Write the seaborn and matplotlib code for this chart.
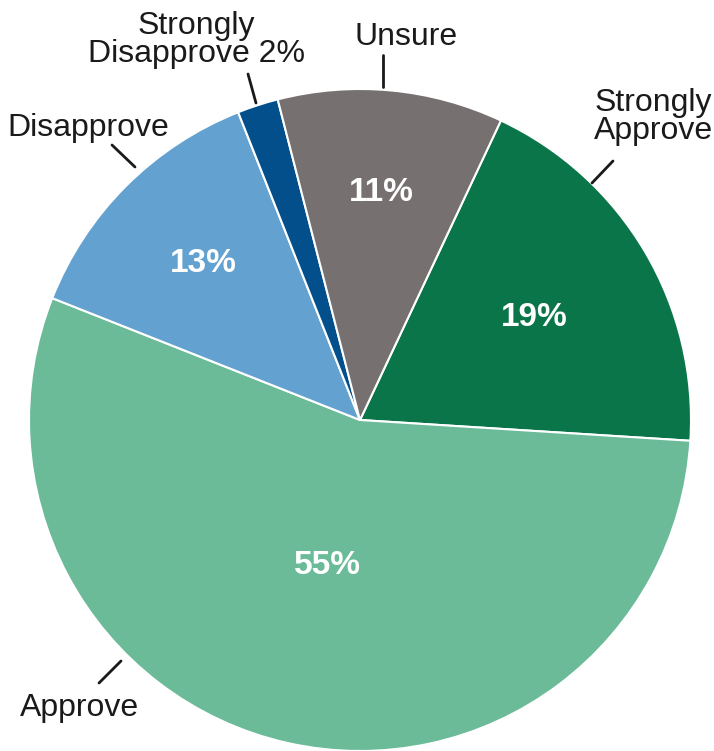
import numpy as np
import matplotlib
matplotlib.use("Agg")
import matplotlib.pyplot as plt
import seaborn as sns

# ---- data ----
categories = ["Strongly Approve", "Approve", "Disapprove", "Strongly Disapprove", "Unsure"]
values = [19, 55, 13, 2, 11]
outer_labels = ["Strongly\nApprove", "Approve", "Disapprove", "Strongly\nDisapprove 2%", "Unsure"]
inner_labels = ["19%", "55%", "13%", "", "11%"]

colors = ["#0a7548", "#6bbb99", "#63a2d0", "#034f8b", "#767070"]

sns.set_theme(style="white")
plt.rcParams["font.family"] = ["Liberation Sans", "DejaVu Sans"]

W, H = 714, 751
fig = plt.figure(figsize=(W / 100, H / 100), dpi=100)
ax = fig.add_axes([0, 0, 1, 1])

cx, cy, R = 360, H - 420, 331
wedges, _ = ax.pie(values, colors=colors, startangle=64.8, counterclock=False,
                   center=(cx, cy), radius=R, frame=True,
                   wedgeprops=dict(edgecolor="white", linewidth=1.5))
ax.set_xlim(0, W)
ax.set_ylim(0, H)
ax.set_aspect("equal")
ax.axis("off")

# inner percentage labels (radial fraction per slice)
frac = [0.61, 0.45, 0.67, 0.6, 0.69]
for w, lab, f in zip(wedges, inner_labels, frac):
    if not lab:
        continue
    ang = np.deg2rad((w.theta1 + w.theta2) / 2)
    ax.text(cx + f * R * np.cos(ang), cy + f * R * np.sin(ang), lab,
            color="white", fontsize=24, fontweight="bold", ha="center", va="center")

# outer labels with leader lines (pixel layout)
def P(x, y):
    return (x, H - y)

outer_layout = [
    # text pos, ha, line start, line end
    ((653, 117), "center", (613, 161), (592, 183)),
    ((80, 708), "center", (99, 683), (121, 661)),
    ((88, 128), "center", (112, 145), (135, 167)),
    ((196, 40), "center", (248, 74), (256, 103)),
    ((406, 37), "center", (383, 55), (383, 87)),
]
for lab, (tp, ha, l0, l1) in zip(outer_labels, outer_layout):
    ax.text(*P(*tp), lab, fontsize=23, color="#1a1a1a", ha=ha, va="center",
            linespacing=0.92)
    ax.plot([P(*l0)[0], P(*l1)[0]], [P(*l0)[1], P(*l1)[1]], color="#1a1a1a", lw=2)

fig.savefig("out.png", dpi=100)
